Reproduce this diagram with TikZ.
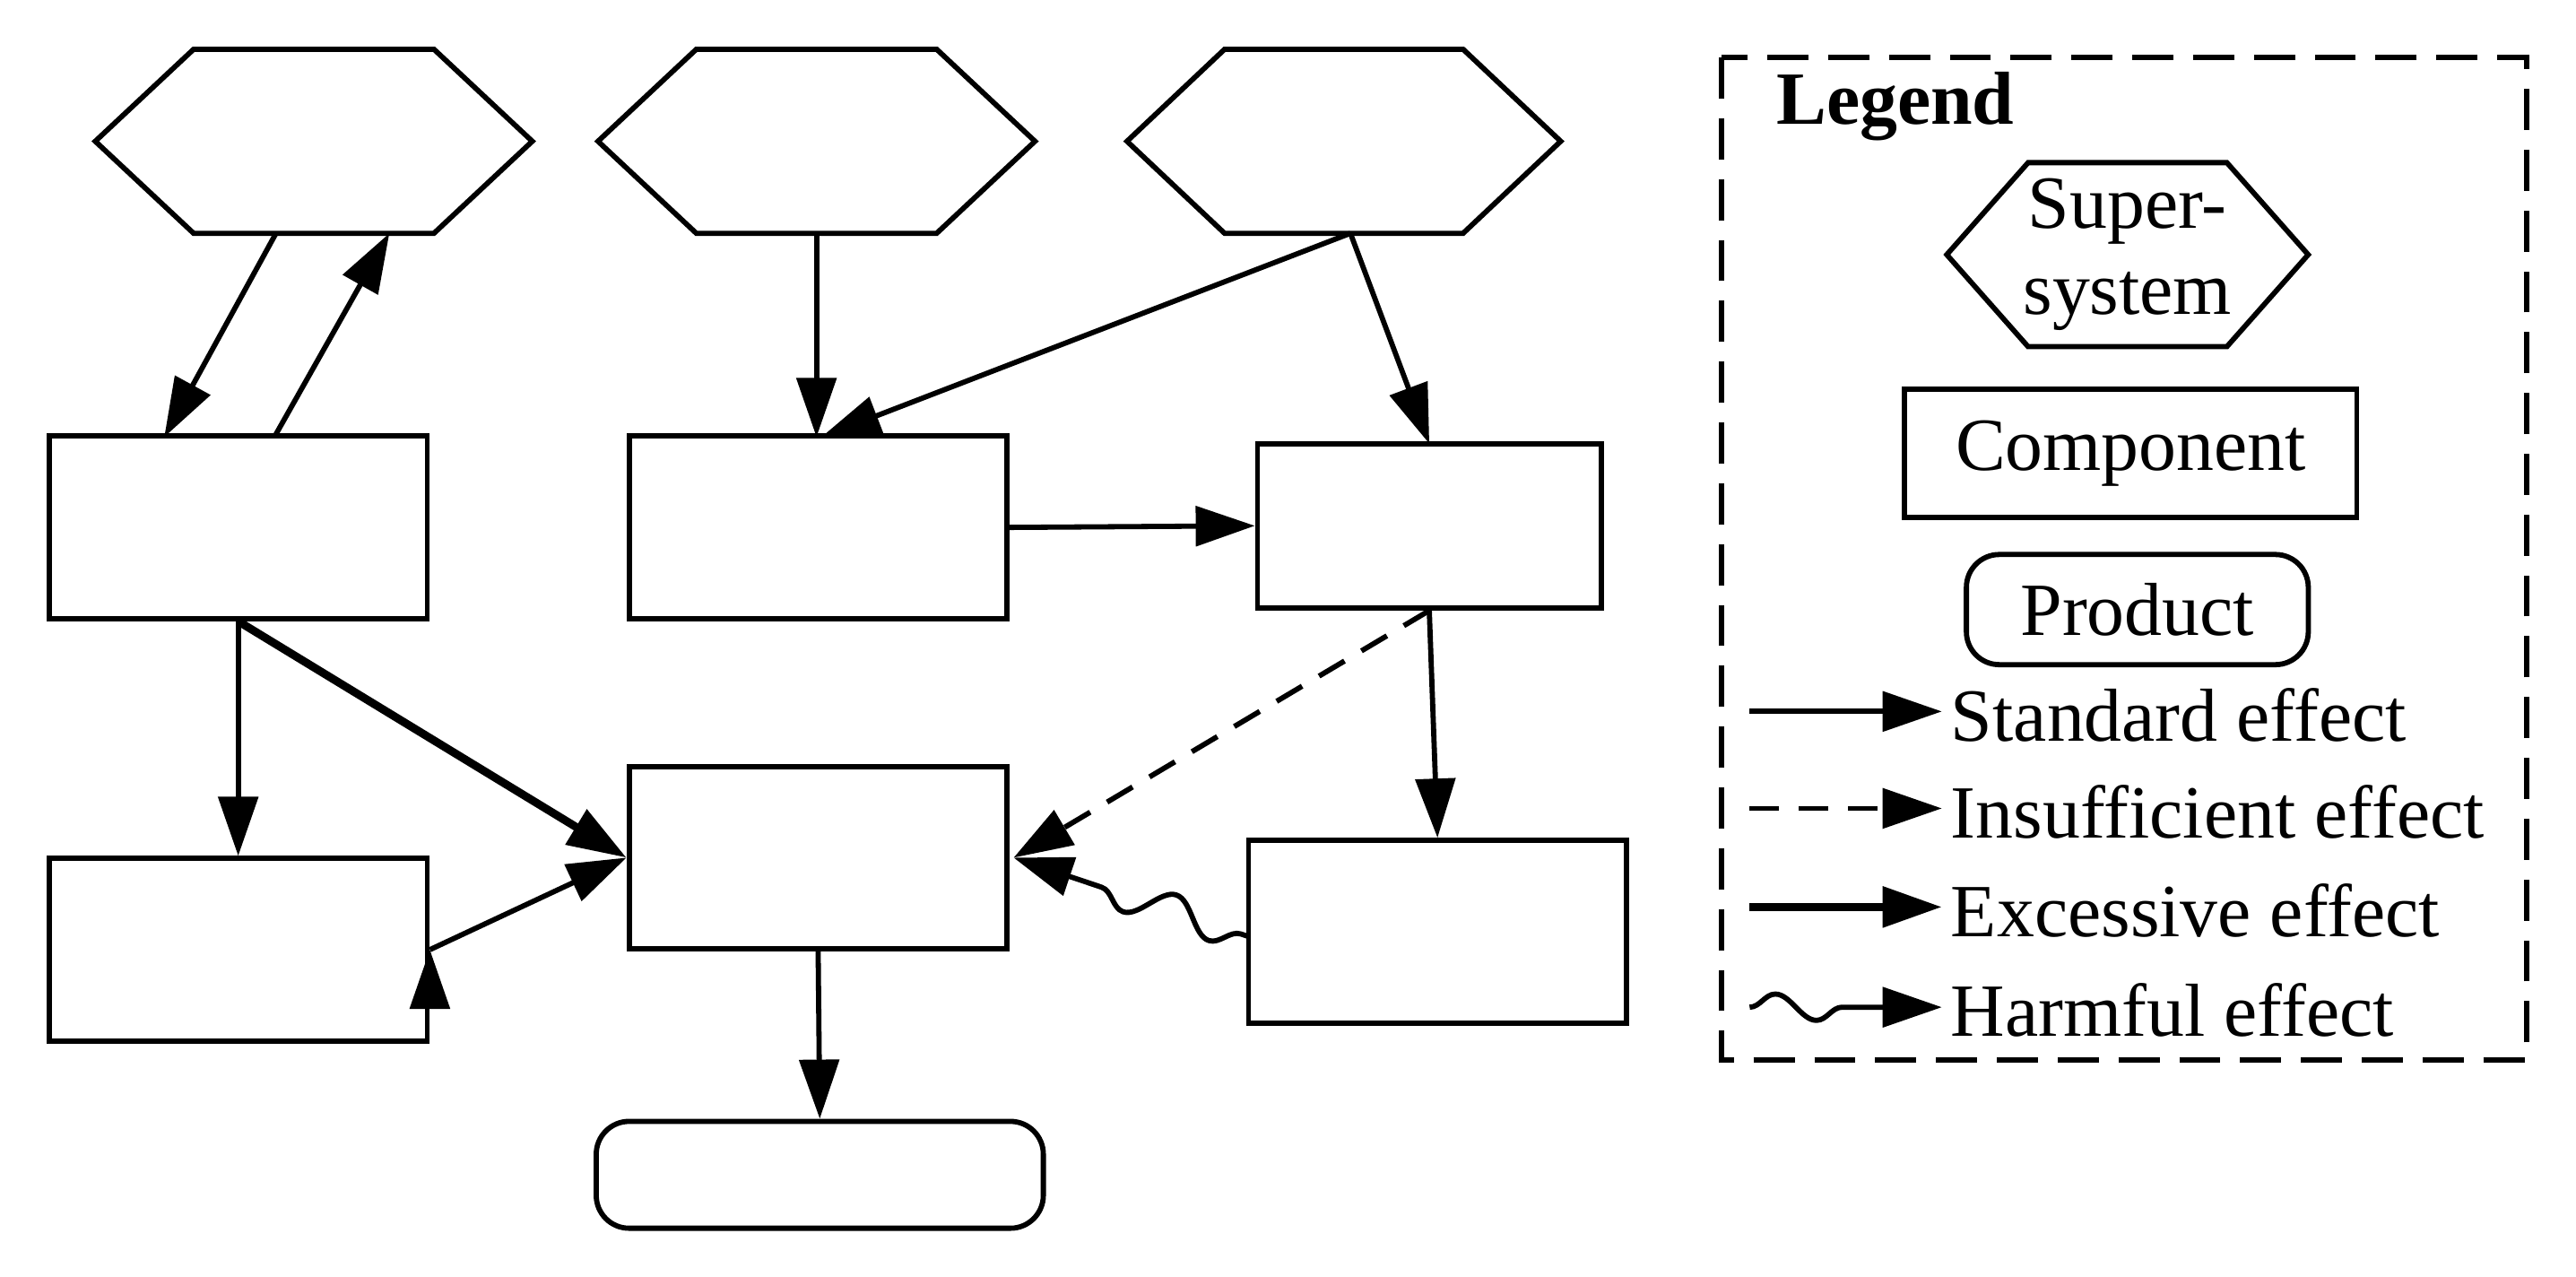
\documentclass[tikz,border=0pt]{standalone}
\usepackage{fontspec}
\setmainfont{Liberation Serif}
\usetikzlibrary{shapes.geometric,arrows.meta,decorations.pathmorphing}
\begin{document}
\begin{tikzpicture}[x=0.01cm,y=-0.01cm,
  every path/.style={line width=0.9pt},
  hex/.style={draw,line width=0.9pt,regular polygon,regular polygon sides=6,shape border rotate=0,minimum size=0pt,inner sep=0pt},
  comp/.style={draw,line width=0.9pt,minimum width=2.3cm,minimum height=1.11cm,inner sep=0pt},
  arr/.style={-{Triangle[length=0.36cm,width=0.24cm]},line width=0.9pt},
  font=\fontsize{13pt}{15pt}\selectfont]
\useasboundingbox (0,0) rectangle (1568,777);
\newcommand{\hexshape}[4]{% name, cx, cy, halfwidth
  \coordinate (#1) at (#2,#3);
  \draw[line width=0.9pt] (#2-#4,#3) -- (#2-#4*0.55,#3-56) -- (#2+#4*0.55,#3-56) -- (#2+#4,#3) -- (#2+#4*0.55,#3+56) -- (#2-#4*0.55,#3+56) -- cycle;}
\hexshape{H1}{191}{86}{133}
\hexshape{H2}{497}{86}{133}
\hexshape{H3}{818}{86}{132}
\node[comp] (A) at (145,321) {};
\node[comp] (B) at (498,321) {};
\node[comp,minimum width=2.09cm,minimum height=1.0cm] (C) at (870,320) {};
\node[comp] (D) at (145,578) {};
\node[comp] (E) at (498,522) {};
\node[comp] (F) at (875,567) {};
\node[draw,line width=0.9pt,rounded corners=0.2cm,minimum width=2.72cm,minimum height=0.65cm] (P) at (499,715) {};
\coordinate (h1a) at (168,142); \coordinate (a1) at (100,266);
\coordinate (a2) at (167,266); \coordinate (h1b) at (237,142);
\coordinate (h2a) at (497,142); \coordinate (b1) at (497,266);
\coordinate (h3a) at (822,142); \coordinate (b2) at (500,266);
\coordinate (c1) at (870,270);
\draw[arr] (h1a) -- (a1);
\draw[arr] (a2) -- (h1b);
\draw[arr] (h2a) -- (b1);
\draw[arr] (h3a) -- (b2);
\draw[arr] (h3a) -- (c1);
\draw[arr] (B.east) -- (C.west);
\draw[arr] (A.south) -- (D.north);
\draw[arr,line width=1.4pt] (A.south) -- (E.west);
\draw[arr] (D.east |- 0,578) ++(0,0) coordinate (d1);
\draw[arr] ([yshift=-0.0cm]D.east) ++(0,0.0) -- (E.west);
\draw[arr,dash pattern=on 0.18cm off 0.12cm] (C.south) -- (617,522);
\draw[arr] (C.south) -- (F.north);
\draw[arr,decorate,decoration={snake,amplitude=0.1cm,segment length=0.55cm,pre length=0.05cm,post length=0.45cm}] (760,570) -- (617,522);
\draw[arr] (E.south) -- (P.north);
% legend
\draw[dash pattern=on 0.25cm off 0.12cm] (1048,35) rectangle (1538,645);
\node[anchor=west,font=\fontsize{13pt}{15pt}\selectfont\bfseries] at (1068,65) {Legend};
\hexshape{HL}{1295}{155}{110}
\node[align=center,font=\fontsize{13pt}{15pt}\selectfont] at (1295,155) {Super-\\system};
\node[draw,line width=0.9pt,minimum width=2.75cm,minimum height=0.78cm] (LC) at (1297,276) {Component};
\node[draw,line width=0.9pt,rounded corners=0.2cm,minimum width=2.08cm,minimum height=0.67cm] (LP) at (1301,371) {Product};
\coordinate (l1a) at (1065,433); \coordinate (l1b) at (1182,433);
\coordinate (l2a) at (1065,492); \coordinate (l2b) at (1182,492);
\coordinate (l3a) at (1065,552); \coordinate (l3b) at (1182,552);
\coordinate (l4a) at (1065,613); \coordinate (l4b) at (1182,613);
\draw[arr] (l1a) -- (l1b);
\draw[arr,dash pattern=on 0.18cm off 0.12cm] (l2a) -- (l2b);
\draw[arr,line width=1.4pt] (l3a) -- (l3b);
\draw[arr,decorate,decoration={snake,amplitude=0.08cm,segment length=0.5cm,post length=0.4cm}] (l4a) -- (l4b);
\node[anchor=west,inner sep=0pt] at (1186,435) {Standard effect};
\node[anchor=west,inner sep=0pt] at (1186,494) {Insufficient effect};
\node[anchor=west,inner sep=0pt] at (1186,554) {Excessive effect};
\node[anchor=west,inner sep=0pt] at (1186,615) {Harmful effect};
\end{tikzpicture}
\end{document}
